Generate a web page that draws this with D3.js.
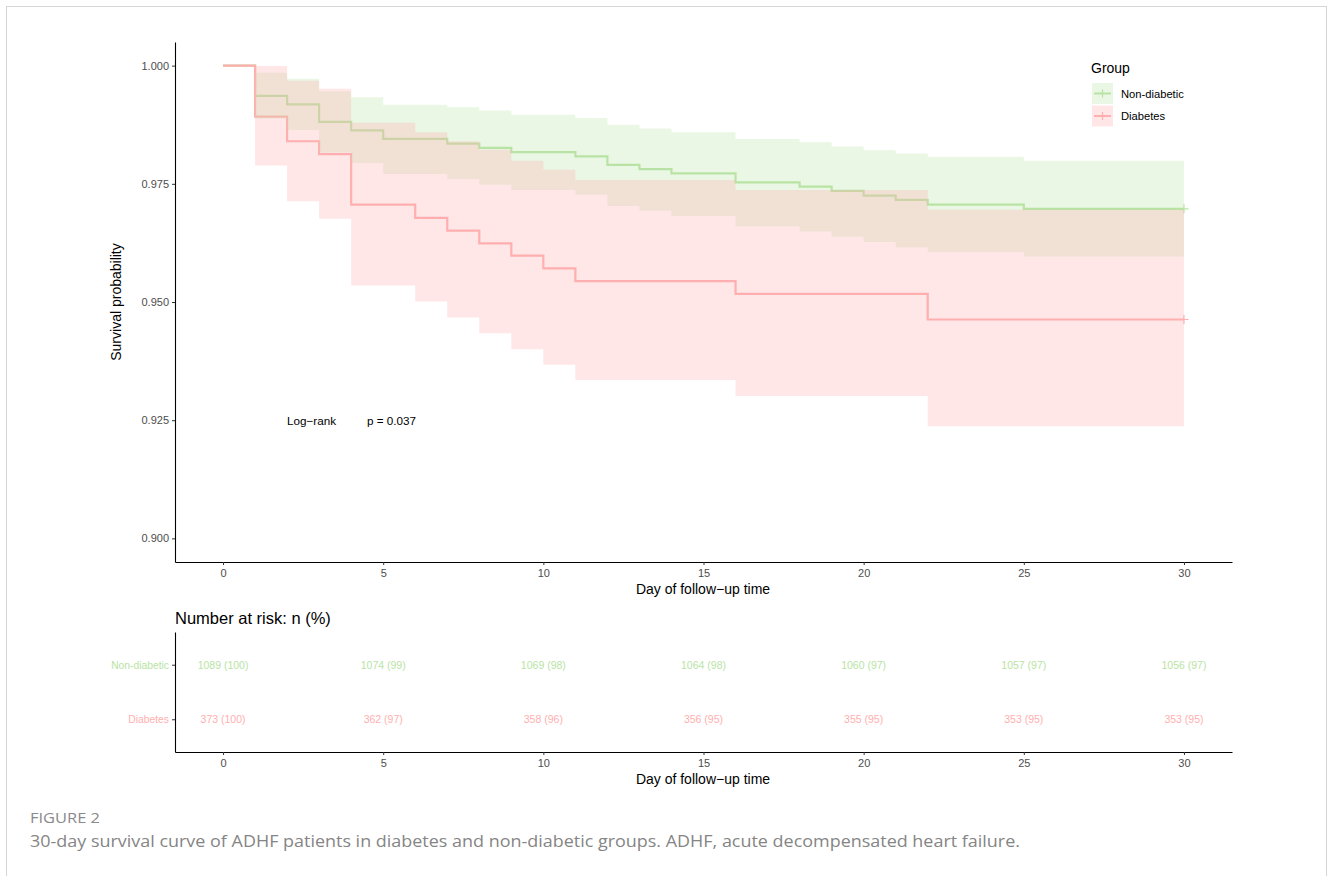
<!DOCTYPE html>
<html>
<head>
<meta charset="utf-8">
<script src="https://cdn.jsdelivr.net/npm/d3@7"></script>
<style>
  body { margin: 0; background: #fff; }
  svg text { font-family: "Liberation Sans", Arial, sans-serif; }
</style>
</head>
<body>
<div id="chart"></div>
<script>
// Kaplan-Meier steps
let nonDiabTime  = [0, 1, 2, 3, 4, 5, 7, 8, 9, 11, 12, 13, 14, 16, 18, 19, 20, 21, 22, 25, 30];
let nonDiabSurv  = [1, 0.9936, 0.9918, 0.9881, 0.9863, 0.9845, 0.9835, 0.9826, 0.9817, 0.9808, 0.9790, 0.9781, 0.9772, 0.9753, 0.9744, 0.9735, 0.9725, 0.9716, 0.9706, 0.9697, 0.9697];
let nonDiabUpper = [1, 0.9985, 0.9972, 0.9946, 0.9933, 0.9917, 0.9912, 0.9905, 0.9896, 0.9889, 0.9875, 0.9867, 0.9859, 0.9845, 0.9838, 0.9829, 0.9821, 0.9814, 0.9807, 0.9799, 0.9799];
let nonDiabLower = [1, 0.9888, 0.9864, 0.9816, 0.9794, 0.9771, 0.9760, 0.9748, 0.9737, 0.9727, 0.9703, 0.9693, 0.9682, 0.9660, 0.9649, 0.9638, 0.9627, 0.9616, 0.9606, 0.9596, 0.9596];

let diabTime  = [0, 1, 2, 3, 4, 6, 7, 8, 9, 10, 11, 16, 22, 30];
let diabSurv  = [1, 0.9892, 0.9840, 0.9813, 0.9706, 0.9678, 0.9651, 0.9624, 0.9598, 0.9571, 0.9544, 0.9517, 0.9463, 0.9463];
let diabUpper = [1, 0.9999, 0.9968, 0.9951, 0.9879, 0.9859, 0.9840, 0.9822, 0.9799, 0.9780, 0.9758, 0.9737, 0.9695, 0.9695];
let diabLower = [1, 0.9789, 0.9713, 0.9676, 0.9535, 0.9501, 0.9467, 0.9434, 0.9400, 0.9367, 0.9335, 0.9301, 0.9237, 0.9237];

// number at risk table
let riskDays      = [0, 5, 10, 15, 20, 25, 30];
let nonDiabRisk   = [1089, 1074, 1069, 1064, 1060, 1057, 1056];
let nonDiabRiskPc = [100, 99, 98, 98, 97, 97, 97];
let diabRisk      = [373, 362, 358, 356, 355, 353, 353];
let diabRiskPc    = [100, 97, 96, 95, 95, 95, 95];

let groupNames  = ["Non-diabetic", "Diabetes"];
let groupColors = ["#B9E3A4", "#FFAFAF"];
let yTicks = [0.900, 0.925, 0.950, 0.975, 1.000];
let xTicks = [0, 5, 10, 15, 20, 25, 30];

const W = 1330, H = 876;
const svg = d3.select("#chart").append("svg")
	.attr("width", W)
	.attr("height", H);

svg.append("rect")
	.attr("x", 6.5).attr("y", 6.5)
	.attr("width", 1320).attr("height", H)
	.attr("fill", "none")
	.attr("stroke", "#d6d6d6");

const x = d3.scaleLinear().domain([-1.5, 31.5]).range([175, 1232]);
const y = d3.scaleLinear().domain([0.895, 1.005]).range([562, 42]);

const groups = [
	{ name: groupNames[0], color: groupColors[0], t: nonDiabTime, s: nonDiabSurv, up: nonDiabUpper, lo: nonDiabLower },
	{ name: groupNames[1], color: groupColors[1], t: diabTime, s: diabSurv, up: diabUpper, lo: diabLower }
];
groups.forEach(g => {
	g.rows = g.t.map((d, i) => ({ t: d, s: g.s[i], up: g.up[i], lo: g.lo[i] }));
});

const stepLine = d3.line()
	.x(d => x(d.t)).y(d => y(d.s))
	.curve(d3.curveStepAfter);
const stepArea = d3.area()
	.x(d => x(d.t)).y0(d => y(d.lo)).y1(d => y(d.up))
	.curve(d3.curveStepAfter);

// lines first, ribbons on top (as ggsurvplot does)
const plot = svg.append("g");
groups.forEach(g => {
	plot.append("path")
		.attr("d", stepLine(g.rows))
		.attr("fill", "none")
		.attr("stroke", g.color)
		.attr("stroke-width", 2.2);
	let last = g.rows[g.rows.length - 1];
	plot.append("path")
		.attr("d", "M" + (x(last.t) - 4.5) + "," + y(last.s) + "h9M" + x(last.t) + "," + (y(last.s) - 4.5) + "v9")
		.attr("stroke", g.color)
		.attr("stroke-width", 1.2);
});
groups.forEach(g => {
	plot.append("path")
		.attr("d", stepArea(g.rows))
		.attr("fill", g.color)
		.attr("fill-opacity", 0.3)
		.attr("stroke", "none");
});

// axes
const yAxis = svg.append("g")
	.attr("transform", "translate(175,0)")
	.call(d3.axisLeft(y).tickValues(yTicks).tickFormat(d3.format(".3f")).tickSize(3).tickSizeOuter(0).tickPadding(3));
const xAxis = svg.append("g")
	.attr("transform", "translate(0,562)")
	.call(d3.axisBottom(x).tickValues(xTicks).tickSize(3).tickSizeOuter(0).tickPadding(4));
[yAxis, xAxis].forEach(a => {
	a.select(".domain").attr("stroke", "#000").attr("stroke-width", 1.1);
	a.selectAll(".tick line").attr("stroke", "#333");
	a.selectAll(".tick text").attr("fill", "#4d4d4d").attr("font-size", 11)
		.style("font-family", "Liberation Sans, Arial, sans-serif");
});

svg.append("text")
	.attr("x", 703).attr("y", 594)
	.attr("text-anchor", "middle").attr("font-size", 14)
	.text("Day of follow\u2212up time");
svg.append("text")
	.attr("transform", "translate(121,302) rotate(-90)")
	.attr("text-anchor", "middle").attr("font-size", 14)
	.text("Survival probability");

svg.append("text").attr("x", 287).attr("y", 425).attr("font-size", 11.7).text("Log\u2212rank");
svg.append("text").attr("x", 367).attr("y", 425).attr("font-size", 11.7).text("p = 0.037");

// legend
const legend = svg.append("g").attr("transform", "translate(1091,0)");
legend.append("text").attr("x", 0).attr("y", 73).attr("font-size", 14).text("Group");
groups.forEach((g, i) => {
	let ky = 83 + i * 22.5;
	legend.append("rect")
		.attr("x", 1).attr("y", ky).attr("width", 21).attr("height", 21)
		.attr("fill", g.color).attr("fill-opacity", 0.3);
	legend.append("line")
		.attr("x1", 3).attr("x2", 20).attr("y1", ky + 10.5).attr("y2", ky + 10.5)
		.attr("stroke", g.color).attr("stroke-width", 2);
	legend.append("line")
		.attr("x1", 11.5).attr("x2", 11.5).attr("y1", ky + 6.5).attr("y2", ky + 14.5)
		.attr("stroke", g.color).attr("stroke-width", 1.2);
	legend.append("text")
		.attr("x", 30).attr("y", ky + 14.5).attr("font-size", 11.2)
		.text(g.name);
});

// risk table
svg.append("text").attr("x", 175).attr("y", 624).attr("font-size", 16.5).text("Number at risk: n (%)");

const yr = d3.scaleLinear().domain([0.4, 2.6]).range([752, 632]);
const riskRows = [
	{ name: groupNames[0], color: groupColors[0], pos: 2, n: nonDiabRisk, pc: nonDiabRiskPc },
	{ name: groupNames[1], color: groupColors[1], pos: 1, n: diabRisk, pc: diabRiskPc }
];
const table = svg.append("g");
riskRows.forEach(r => {
	table.selectAll(null)
		.data(riskDays).enter().append("text")
			.attr("x", d => x(d))
			.attr("y", yr(r.pos) + 4)
			.attr("text-anchor", "middle")
			.attr("font-size", 10.5)
			.attr("fill", r.color)
			.text((d, i) => r.n[i] + " (" + r.pc[i] + ")");
});
const ryAxis = svg.append("g")
	.attr("transform", "translate(175,0)")
	.call(d3.axisLeft(yr).tickValues(riskRows.map(r => r.pos)).tickSize(3).tickSizeOuter(0).tickPadding(3)
		.tickFormat(d => riskRows.find(r => r.pos === d).name));
ryAxis.selectAll(".tick text")
	.attr("font-size", 10.3)
	.style("font-family", "Liberation Sans, Arial, sans-serif")
	.attr("fill", d => riskRows.find(r => r.pos === d).color);
const rxAxis = svg.append("g")
	.attr("transform", "translate(0,752)")
	.call(d3.axisBottom(x).tickValues(xTicks).tickSize(3).tickSizeOuter(0).tickPadding(4));
rxAxis.selectAll(".tick text").attr("fill", "#4d4d4d").attr("font-size", 11)
	.style("font-family", "Liberation Sans, Arial, sans-serif");
[ryAxis, rxAxis].forEach(a => {
	a.select(".domain").attr("stroke", "#000").attr("stroke-width", 1.1);
	a.selectAll(".tick line").attr("stroke", "#333");
});
svg.append("text")
	.attr("x", 703).attr("y", 784)
	.attr("text-anchor", "middle").attr("font-size", 14)
	.text("Day of follow\u2212up time");

// caption
svg.append("text")
	.attr("x", 30).attr("y", 823)
	.attr("font-size", 14).attr("fill", "#8a8a8a")
	.attr("textLength", 70).attr("lengthAdjust", "spacingAndGlyphs")
	.style("font-family", "Open Sans, Noto Sans, sans-serif")
	.text("FIGURE 2");
svg.append("text")
	.attr("x", 30).attr("y", 847)
	.attr("font-size", 17).attr("fill", "#858585")
	.attr("textLength", 990).attr("lengthAdjust", "spacingAndGlyphs")
	.style("font-family", "Open Sans, Noto Sans, sans-serif")
	.text("30-day survival curve of ADHF patients in diabetes and non-diabetic groups. ADHF, acute decompensated heart failure.");
</script>
</body>
</html>
